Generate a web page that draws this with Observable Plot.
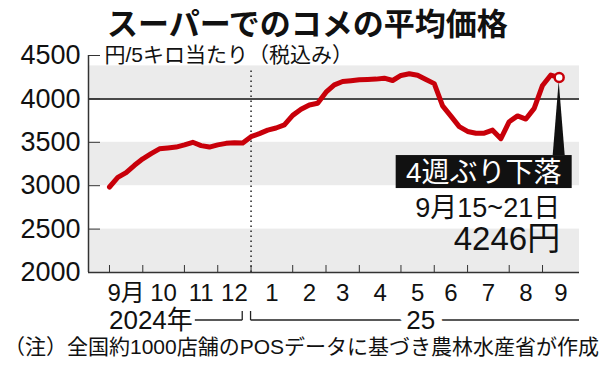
<!DOCTYPE html>
<html><head><meta charset="utf-8">
<script src="https://cdn.jsdelivr.net/npm/d3@7"></script>
<script src="https://cdn.jsdelivr.net/npm/@observablehq/plot@0.6"></script>
<style>
html,body{margin:0;padding:0;background:#fff;}
body{width:600px;height:365px;overflow:hidden;position:relative;font-family:"Liberation Sans","Noto Sans CJK JP",sans-serif;color:#111;}
#title{position:absolute;left:107px;top:4px;font-family:"Noto Sans CJK JP",sans-serif;font-weight:700;font-size:31px;line-height:36px;white-space:nowrap;z-index:2;}
#caption{position:absolute;left:4px;top:334px;font-size:21px;line-height:26px;white-space:nowrap;z-index:2;}
#chart{position:absolute;left:0;top:0;z-index:1;}
</style>
</head><body>
<div id="chart"></div>
<div id="title"></div>
<div id="caption"></div>
<script>
// ---- data ----
const titleText = "スーパーでのコメの平均価格";
const unitText = "円/5キロ当たり（税込み）";
const captionText = "（注）全国約1000店舗のPOSデータに基づき農林水産省が作成";
const firstWeek = "2024-09-02"; // Monday of first weekly observation
const prices = [
  2985, 3095, 3150, 3235, 3310, 3370, 3425, 3435, 3445, 3470,
  3500, 3462, 3445, 3470, 3488, 3495, 3492, 3565, 3600, 3640,
  3665, 3700, 3810, 3880, 3930, 3950, 4077, 4162, 4200, 4210,
  4220, 4224, 4228, 4239, 4212, 4270, 4290, 4272, 4223, 4176,
  3920, 3801, 3680, 3625, 3605, 3605, 3640, 3542, 3737, 3804,
  3768, 3891, 4155, 4275, 4246
];
const monthLabels = ["9月","10","11","12","1","2","3","4","5","6","7","8","9"];
const yearLabels = ["2024年","25"];
const yTicks = [2000, 2500, 3000, 3500, 4000, 4500];
const bands = [[2000, 2500], [3000, 3500], [4000, 4380]];
const noteText = "4週ぶり下落";
const dateText = "9月15~21日";
const priceText = "4246円";

// ---- derived ----
const start = new Date(firstWeek + "T00:00:00");
const weeks = prices.map((v, i) => ({i, v, mid: d3.timeDay.offset(start, 7 * i + 2)}));
const monthStarts = weeks.filter((w, k) => k === 0 || w.mid.getMonth() !== weeks[k - 1].mid.getMonth()).map(w => w.i);
const yearStart = weeks.find(w => w.mid.getFullYear() !== weeks[0].mid.getFullYear()).i;
const xDomain = [-2.52, 56.44];
const monthData = monthLabels.map((t, k) => ({
  t, x: (monthStarts[k] + (k + 1 < monthStarts.length ? monthStarts[k + 1] : xDomain[1])) / 2
}));
const last = weeks[weeks.length - 1];
const RED = "#c8000a";
const FONT = '"Liberation Sans","Noto Sans CJK JP",sans-serif';

document.getElementById("title").textContent = titleText;
document.getElementById("caption").textContent = captionText;

function measure(txt, size) {
  const c = document.createElement("canvas").getContext("2d");
  c.font = `${size}px "Liberation Sans", "Noto Sans CJK JP", sans-serif`;
  const w = c.measureText(txt).width;
  return isFinite(w) && w > 0 ? w : 84;
}

function overlay(index, scales) {
  const sx = scales.x, sy = scales.y;
  const g = d3.create("svg:g").attr("font-family", FONT);
  // year row
  const yy = sy(2000) + 48;
  const x0 = sx(0), x16 = sx(yearStart - 1), x17 = sx(yearStart), xe = sx(xDomain[1]);
  const w24 = measure(yearLabels[0], 26);
  const seg = (a, b, c, d) => g.append("line").attr("x1", a).attr("y1", b).attr("x2", c).attr("y2", d)
    .attr("stroke", "#222").attr("stroke-width", 1.3);
  seg(x0 + w24 + 2, yy, x16, yy);
  seg(x16, yy, x16, yy - 9);
  seg(x17, yy - 9, x17, yy);
  seg(x17, yy, xe, yy);
  g.append("text").attr("x", x0).attr("y", yy).attr("dy", "0.36em").attr("font-size", 26)
    .attr("text-anchor", "start").attr("fill", "#111").text(yearLabels[0]);
  g.append("text").attr("x", (x17 + xe) / 2 + 6).attr("y", yy).attr("dy", "0.36em").attr("font-size", 26)
    .attr("text-anchor", "middle").attr("fill", "#111")
    .attr("stroke", "#fff").attr("stroke-width", 16).attr("paint-order", "stroke").attr("stroke-linejoin", "round")
    .text(yearLabels[1]);
  // annotation
  const px = sx(last.i), py = sy(last.v);
  const boxTop = py + 78;
  g.append("path").attr("fill", "#111").attr("d", `M${px},${py + 4}L${px + 6},${boxTop}L${px - 6},${boxTop}Z`);
  g.append("rect").attr("x", px - 163).attr("y", boxTop).attr("width", 176).attr("height", 33).attr("fill", "#111");
  g.append("text").attr("x", px - 163 + 88).attr("y", boxTop + 16.5).attr("dy", "0.36em")
    .attr("text-anchor", "middle").attr("font-size", 28).attr("fill", "#fff").text(noteText);
  return g.node();
}

const chart = Plot.plot({
  width: 600, height: 365,
  marginLeft: 88, marginRight: 21, marginTop: 55, marginBottom: 93,
  x: {domain: xDomain},
  y: {domain: [2000, 4500]},
  style: {fontFamily: FONT, background: "transparent", color: "#111", overflow: "visible"},
  marks: [
    Plot.rect(bands, {x1: xDomain[0], x2: xDomain[1], y1: d => d[0], y2: d => d[1], fill: "#ebebeb"}),
    Plot.ruleY([4000], {stroke: "#4a4a4a", strokeWidth: 2}),
    Plot.ruleX([yearStart], {y1: 2000, y2: 4330, stroke: "#222", strokeWidth: 1.5, strokeDasharray: "1.5,3.5"}),
    Plot.axisY(yTicks, {tickSize: 12, dx: 12, tickFormat: () => "", label: null, stroke: "#333"}),
    Plot.axisY(yTicks, {tickSize: 0, tickPadding: 8, fontSize: 27, tickFormat: d => String(d), label: null}),
    Plot.axisX(monthStarts, {tickSize: 7, dy: -7, tickFormat: () => "", label: null, stroke: "#333"}),
    Plot.text(monthData, {x: "x", y: 2000, dy: 21, text: "t", fontSize: 24, fill: "#111"}),
    Plot.ruleX([xDomain[0]], {y1: 2000, y2: 4500, stroke: "#333", strokeWidth: 1.5}),
    Plot.ruleY([2000], {stroke: "#333", strokeWidth: 1.5}),
    Plot.text([unitText], {x: xDomain[0], y: 4500, dx: 16, text: d => d, textAnchor: "start", fontSize: 21, fill: "#111"}),
    Plot.line(weeks, {x: "i", y: "v", stroke: RED, strokeWidth: 5, strokeLinejoin: "round", strokeLinecap: "round"}),
    overlay,
    Plot.dot([last], {x: "i", y: "v", r: 4.5, fill: "#fff", stroke: RED, strokeWidth: 2.5}),
    Plot.text([last], {x: "i", y: "v", text: () => dateText, textAnchor: "end", dx: 1, dy: 131, fontSize: 27, fill: "#111"}),
    Plot.text([last], {x: "i", y: "v", text: () => priceText, textAnchor: "end", dx: 1, dy: 162, fontSize: 33, fill: "#111"})
  ]
});
document.getElementById("chart").appendChild(chart);
</script>
</body></html>
